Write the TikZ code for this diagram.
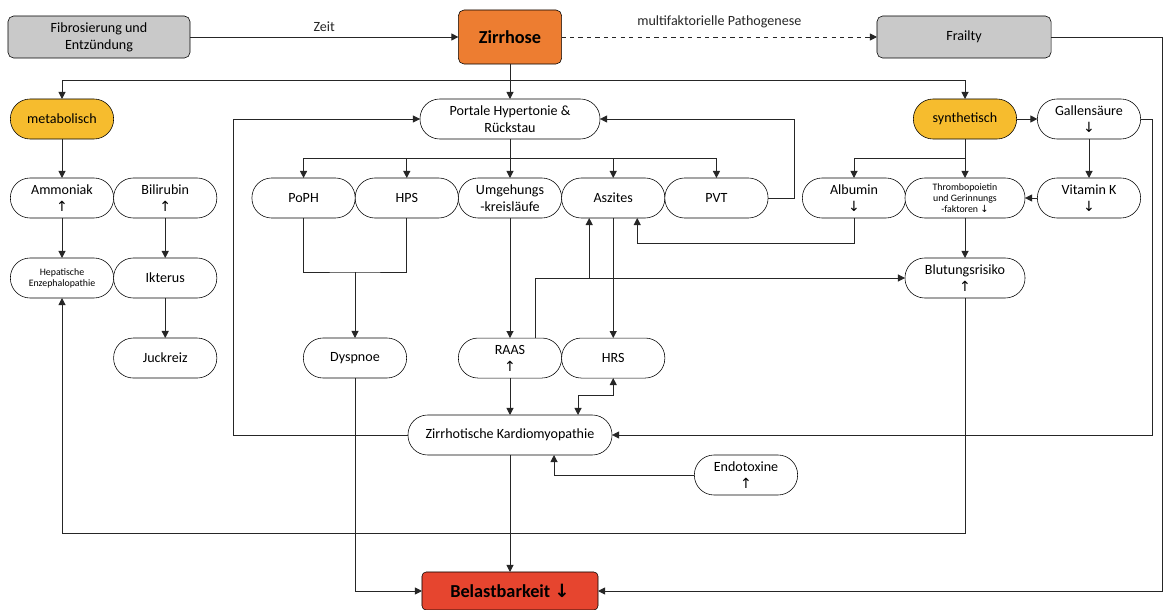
\documentclass[tikz,border=0pt]{standalone}
\usepackage{fontspec}
\setmainfont{Carlito}
\newfontfamily\pfeilfont{DejaVu Sans}
\usepackage{tikz}
\usetikzlibrary{
arrows.meta,
positioning
}
\definecolor{grau}{HTML}{C9C9C9}
\definecolor{zirrorange}{HTML}{ED7D31}
\definecolor{gelb}{HTML}{F6BC2E}
\definecolor{rot}{HTML}{E6452F}
\newcommand{\hoch}{{\pfeilfont ↑}}
\newcommand{\runter}{{\pfeilfont ↓}}

\begin{document}
\begin{tikzpicture}[
x=0.025cm,y=-0.025cm,
node distance=0pt,
box/.style={
draw,
fill=white,
rounded corners=14pt,
minimum width=2.58cm,
minimum height=1cm,
inner sep=1pt,
outer sep=0pt,
align=center
},
grey/.style={
draw,
fill=grau,
rounded corners=4pt,
minimum height=1.05cm,
outer sep=0pt,
align=center
},
arrow/.style={-{Triangle[length=5pt,width=5pt]},line width=0.7pt,black!85},
dblarrow/.style={{Triangle[length=5pt,width=5pt]}-{Triangle[length=5pt,width=5pt]},line width=0.7pt,black!85},
line/.style={line width=0.7pt,black!85}
]
\useasboundingbox (0,0) rectangle (1164,610);

\node[grey,minimum width=4.55cm] (fibrose) at (99,37) {Fibrosierung und\\Entzündung};

\node[draw,fill=zirrorange,rounded corners=4pt,minimum width=2.58cm,minimum height=1.35cm,
outer sep=0pt,font=\fontsize{13}{15}\selectfont\bfseries] (zirrhose) at (510,37) {Zirrhose};

\node[grey,minimum width=4.35cm] (frailty) at (964,37) {Frailty};

\node[box,fill=gelb] (metab) at (62,119) {metabolisch};
\node[box,minimum width=4.5cm] (portal) at (510,119) {
Portale Hypertonie \&\\
Rückstau
};
\node[box,fill=gelb] (synth) at (965,119) {synthetisch};
\node[box] (galle) at (1089,119) {Gallensäure\\\runter};

\node[box] (umgeh) at (510,198) {Umgehungs\\-kreisläufe};
\node[box,left=of umgeh] (hps) {HPS};
\node[box,left=of hps] (poph) {PoPH};
\node[box,right=of umgeh] (aszites) {Aszites};
\node[box,right=of aszites] (pvt) {PVT};

\node[box] (ammoniak) at (62,198) {Ammoniak\\\hoch};
\node[box,right=of ammoniak] (bilirubin) {Bilirubin\\\hoch};
\node[box,font=\scriptsize] (hepenz) at (62,278) {Hepatische\\Enzephalopathie};
\node[box,right=of hepenz] (ikterus) {Ikterus};
\node[box,below=1cm of ikterus] (juckreiz) {Juckreiz};

\node[box] (albumin) at (854,198) {Albumin\\\runter};
\node[box,minimum width=3cm,font=\scriptsize] (thrombo) at (965,198) {
Thrombopoietin\\
und Gerinnungs\\
-faktoren \runter
};
\node[box] (vitk) at (1089,198) {Vitamin K\\\runter};
\node[box,minimum width=3cm] (blutung) at (965,278) {Blutungsrisiko\\\hoch};

\node[box] (dyspnoe) at (355,358) {Dyspnoe};
\node[box,below=3cm of umgeh] (raas) {RAAS\\\hoch};
\node[box,below=3cm of aszites] (hrs) {HRS};

\node[box,minimum width=5.1cm] (kardio) at (510,435) {Zirrhotische Kardiomyopathie};
\node[box] (endotox) at (746,475) {Endotoxine\\\hoch};

\node[draw,fill=rot,rounded corners=3pt,minimum width=4.4cm,minimum height=0.95cm,
outer sep=0pt,font=\fontsize{13}{15}\selectfont\bfseries] (belast) at (510,591) {Belastbarkeit \runter};

\coordinate (verzw) at (510,80);
\coordinate (verteil) at (510,158);
\coordinate (synthverz) at (965,158);
\coordinate (dysverz) at (355,272);
\coordinate (raasoben) at ([xshift=0.625cm]raas.north);

\draw[arrow] (fibrose) -- node[above]{Zeit} (zirrhose);
\draw[arrow,dashed] (zirrhose) -- node[above=3pt]{multifaktorielle Pathogenese} (frailty);
\draw[arrow] (frailty.east) -- ++(111,0) |- (belast.east);

\draw[line] (zirrhose) -- (verzw);
\draw[arrow] (verzw) -- (portal);
\draw[arrow] (verzw) -| (metab);
\draw[arrow] (verzw) -| (synth);
\draw[arrow] (synth) -- (galle);

\draw[line] (portal) -- (verteil);
\foreach \n in {poph,hps,umgeh,aszites,pvt}
\draw[arrow] (verteil) -| (\n);
\draw[arrow] (pvt.east) -- ++(26,0) |- (portal.east);
\draw[arrow] (kardio.west) -- ++(-174,0) |- (portal.west);

\draw[arrow] (metab) -- (ammoniak);
\draw[arrow] (ammoniak) -- (hepenz);
\draw[arrow] (bilirubin) -- (ikterus);
\draw[arrow] (ikterus) -- (juckreiz);

\draw[line] (synth) -- (synthverz);
\draw[arrow] (synthverz) -| (albumin);
\draw[arrow] (synthverz) -- (thrombo);
\draw[arrow] (galle) -- (vitk);
\draw[arrow] (vitk) -- (thrombo);
\draw[arrow] (thrombo) -- (blutung);
\draw[arrow] (albumin.south) -- ++(0,25) -| ([xshift=0.6cm]aszites.south);
\draw[arrow] (galle.east) -- ++(12,0) |- (kardio.east);

\draw[line] (poph) |- (dysverz) -| (hps);
\draw[arrow] (dysverz) -- (dyspnoe);
\draw[arrow] (umgeh) -- (raas);
\draw[arrow] (aszites) -- (hrs);
\draw[arrow] (raasoben) |- (blutung);
\draw[arrow] (raasoben |- blutung) -| ([xshift=-0.6cm]aszites.south);

\draw[arrow] (raas) -- (kardio);
\draw[dblarrow] ([xshift=1.7cm]kardio.north) -- ++(0,-20) -| (hrs);
\draw[arrow] (endotox) -| ([xshift=1.1cm]kardio.south);

\draw[arrow] (kardio) -- (belast);
\draw[arrow] (dyspnoe) |- (belast);
\draw[arrow] (blutung.south) -- ++(0,235) -| (hepenz.south);

\end{tikzpicture}
\end{document}
